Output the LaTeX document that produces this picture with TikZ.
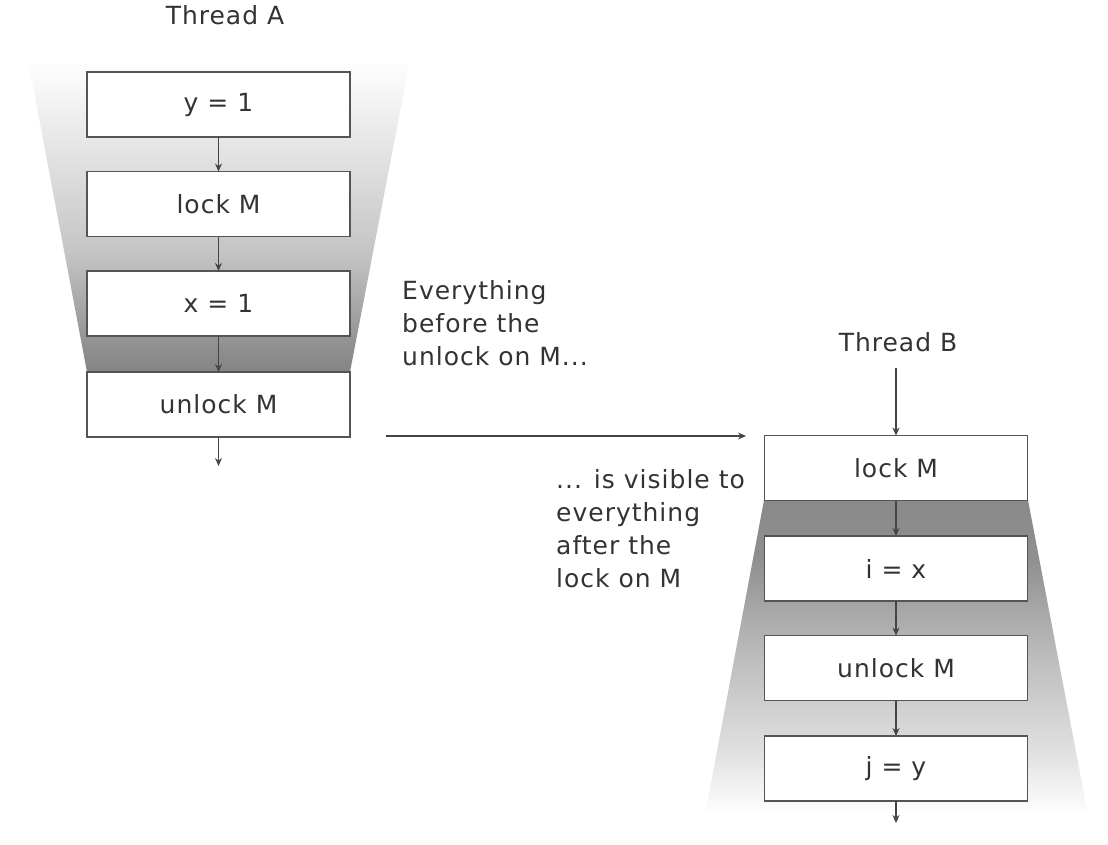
\documentclass[tikz,border=0pt]{standalone}
\usepackage{fontspec}
\setmainfont[LetterSpace=4]{DejaVu Sans}
\usetikzlibrary{arrows.meta}
\definecolor{txt}{HTML}{333333}
\definecolor{edge}{HTML}{555555}
\definecolor{arr}{HTML}{444444}
\pgfdeclareverticalshading{fadeA}{100bp}{color(0bp)=(black!48); color(25bp)=(black!48); color(28bp)=(black!45); color(44bp)=(black!23); color(60bp)=(black!11); color(75bp)=(white); color(100bp)=(white)}
\pgfdeclareverticalshading{fadeB}{100bp}{color(0bp)=(white); color(25bp)=(white); color(35bp)=(black!12); color(50bp)=(black!26); color(66bp)=(black!44); color(75bp)=(black!46); color(100bp)=(black!46)}
\tikzset{
  box/.style={draw=edge, line width=1.4pt, fill=white, minimum width=263pt, minimum height=65pt, inner sep=0pt, outer sep=0pt, text=txt, font=\fontsize{25}{30}\selectfont},
  flow/.style={draw=arr, line width=1.3pt, -{Stealth[length=8pt,width=7pt]}},
  lbl/.style={text=txt, font=\fontsize{25}{33}\selectfont, inner sep=0pt},
}
\begin{document}
\begin{tikzpicture}[x=1pt,y=-1pt]
\useasboundingbox (0,0) rectangle (1108,844);
% shaded funnels
\shade[shading=fadeA] (28,60) -- (410,60) -- (350,372) -- (87,372) -- cycle;
\shade[shading=fadeB] (764,500) -- (1028,500) -- (1088,815) -- (705,815) -- cycle;
% Thread A
\node[lbl, anchor=base] (tA) at (225,24) {Thread A};
\node[box] (a1) at (218.5,104.5) {y = 1};
\node[box] (a2) at (218.5,204) {lock M};
\node[box] (a3) at (218.5,303.5) {x = 1};
\node[box] (a4) at (218.5,404.5) {unlock M};
\coordinate (aend) at (218.5,466);
\draw[flow] (a1) -- (a2);
\draw[flow] (a2) -- (a3);
\draw[flow] (a3) -- (a4);
\draw[flow] (a4) -- (aend);
% Thread B
\node[lbl, anchor=base] (tB) at (898,351) {Thread B};
\node[box] (b1) at (896,468) {lock M};
\node[box] (b2) at (896,568.5) {i = x};
\node[box] (b3) at (896,668) {unlock M};
\node[box] (b4) at (896,768.5) {j = y};
\coordinate (bstart) at (896,368);
\coordinate (bend) at (896,823);
\draw[flow] (bstart) -- (b1);
\draw[flow] (b1) -- (b2);
\draw[flow] (b2) -- (b3);
\draw[flow] (b3) -- (b4);
\draw[flow] (b4) -- (bend);
% cross arrow
\coordinate (hs) at (386,436);
\coordinate (he) at (746,436);
\draw[flow] (hs) -- (he);
% annotations
\node[lbl, anchor=north west, align=left] (n1) at (402,280) {Everything\\before the\\unlock on M...};
\node[lbl, anchor=north west, align=left] (n2) at (556,469) {... is visible to\\everything\\after the\\lock on M};
\end{tikzpicture}
\end{document}
